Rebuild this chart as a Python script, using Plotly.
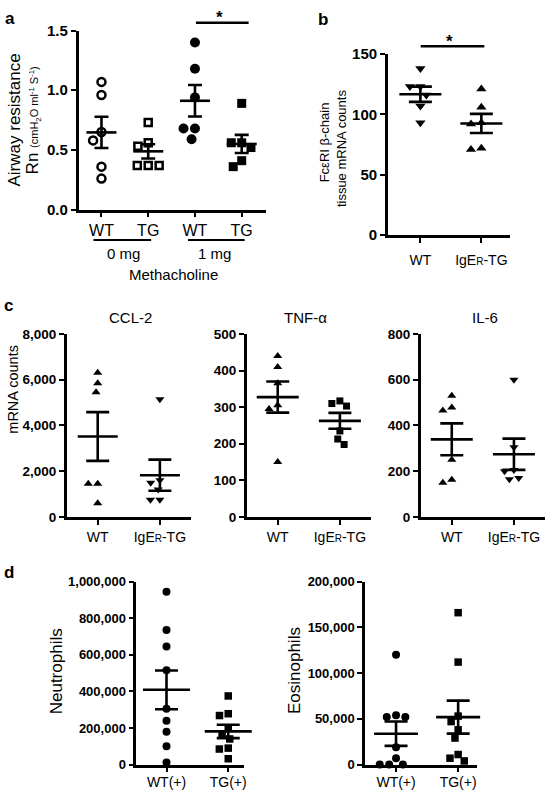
import numpy as np
import plotly.graph_objects as go

W, H = 550, 800
FONT = "Liberation Sans, Arial, Helvetica, sans-serif"

# ---------------- data ----------------
# a: airway resistance Rn
a_ticks = ["WT", "TG", "WT", "TG"]
a_doses = ["0 mg", "1 mg"]
a_wt_0mg = [1.07, 0.96, 0.65, 0.58, 0.36, 0.26]
a_tg_0mg = [0.73, 0.56, 0.53, 0.37, 0.37, 0.37]
a_wt_1mg = [1.40, 1.18, 0.94, 0.68, 0.68, 0.59]
a_tg_1mg = [0.89, 0.56, 0.56, 0.52, 0.41, 0.36]

# b: FceRI beta-chain tissue mRNA counts
b_ticks = ["WT", "IgE<span style='font-size:10px'>R</span>-TG"]
b_wt = [138, 123, 123, 116, 107, 93]
b_tg = [121, 106, 93, 92, 72, 71]

# c: mRNA counts
c_titles = ["CCL-2", "TNF-α", "IL-6"]
c_ticks = ["WT", "IgE<span style='font-size:10px'>R</span>-TG"]
ccl2_wt = [6300, 5850, 5450, 1450, 1450, 600]
ccl2_tg = [5150, 1600, 1500, 1200, 750, 750]
tnf_wt = [440, 410, 365, 305, 295, 150]
tnf_tg = [317, 310, 303, 235, 213, 198]
il6_wt = [530, 478, 465, 250, 163, 150]
il6_tg = [600, 305, 205, 200, 170, 165]

# d: BAL cell counts
d_ticks = ["WT(+)", "TG(+)"]
neut_wt = [945000, 735000, 645000, 515000, 305000, 240000, 180000, 100000, 12000]
neut_tg = [375000, 278000, 268000, 200000, 165000, 140000, 90000, 85000, 32000]
eos_wt = [120000, 54000, 52000, 52000, 19000, 7000, 0, 0, 0]
eos_tg = [166000, 112000, 53000, 47000, 38000, 29000, 11000, 7000, 4000]


# ---------------- helpers ----------------
def px_x(p):
    return p / W


def px_y(p):
    return 1 - p / H


def swarm(vals, ppu, d):
    """Deterministic beeswarm: horizontal pixel offsets so markers don't overlap."""
    ys = [v * ppu for v in vals]
    order = sorted(range(len(vals)), key=lambda i: -vals[i])
    placed, offs = [], [0.0] * len(vals)
    for i in order:
        y = ys[i]
        cands = [0.0]
        for py, px in placed:
            dy = abs(y - py)
            if dy < d:
                dx = (d * d - dy * dy) ** 0.5
                cands += [px + dx, px - dx]
        cands.sort(key=lambda c: (abs(c), c))
        for c in cands:
            if all((c - px) ** 2 + (y - py) ** 2 >= d * d - 1e-6 for py, px in placed):
                offs[i] = c
                break
        placed.append((y, offs[i]))
    return offs


fig = go.Figure()
layout = dict(
    width=W, height=H, margin=dict(l=0, r=0, t=0, b=0),
    paper_bgcolor="white", plot_bgcolor="white", showlegend=False,
    font=dict(family=FONT, color="black"),
)

panels = [
    dict(n=1, xpx=(79, 267), ypx=(22, 205), xr=(-0.49, 3.51), yr=(0, 1.5), dtick=0.5, fmt=".1f",
         ticks=a_ticks, yfs=15, xfs=16, xstand=-1, mlen=30, cap=7,
         groups=[(a_wt_0mg, "circle-open", 8, 2.5), (a_tg_0mg, "square-open", 7, 2.5),
                 (a_wt_1mg, "circle", 10, 0), (a_tg_1mg, "square", 9, 0)]),
    dict(n=2, xpx=(390, 513), ypx=(46, 231), xr=(-0.533, 1.473), yr=(0, 150), dtick=50, fmt="d",
         ticks=b_ticks, yfs=15, xfs=14, xstand=5, mlen=42, cap=11.5,
         groups=[(b_wt, "triangle-down", 9, 0), (b_tg, "triangle-up", 9, 0)]),
    dict(n=3, xpx=(67, 192), ypx=(332, 519), xr=(-0.5, 1.5), yr=(0, 8000), dtick=2000, fmt=",d",
         ticks=c_ticks, yfs=13.5, xfs=14, xstand=0, mlen=40, cap=11.5,
         groups=[(ccl2_wt, "triangle-up", 8, 0), (ccl2_tg, "triangle-down", 8, 0)]),
    dict(n=4, xpx=(248, 373), ypx=(332, 519), xr=(-0.5, 1.5), yr=(0, 500), dtick=100, fmt="d",
         ticks=c_ticks, yfs=13.5, xfs=14, xstand=0, mlen=42, cap=11.5,
         groups=[(tnf_wt, "triangle-up", 8, 0), (tnf_tg, "square", 7, 0)]),
    dict(n=5, xpx=(423, 548), ypx=(332, 519), xr=(-0.5, 1.5), yr=(0, 800), dtick=200, fmt="d",
         ticks=c_ticks, yfs=13.5, xfs=14, xstand=0, mlen=42, cap=11.5,
         groups=[(il6_wt, "triangle-up", 8, 0), (il6_tg, "triangle-down", 8, 0)]),
    dict(n=6, xpx=(137, 245), ypx=(585, 772), xr=(-0.49, 1.25), yr=(0, 1000000), dtick=200000, fmt=",d",
         ticks=d_ticks, yfs=13, xfs=14, xstand=-2, mlen=47, cap=11.5,
         groups=[(neut_wt, "circle", 8, 0), (neut_tg, "square", 7.5, 0)]),
    dict(n=7, xpx=(367, 480), ypx=(585, 772), xr=(-0.5, 1.31), yr=(0, 200000), dtick=50000, fmt=",d",
         ticks=d_ticks, yfs=13, xfs=14, xstand=-2, mlen=44, cap=11.5,
         groups=[(eos_wt, "circle", 8, 0), (eos_tg, "square", 7.5, 0)]),
]

for p in panels:
    s = "" if p["n"] == 1 else str(p["n"])
    x_ppu = (p["xpx"][1] - p["xpx"][0]) / (p["xr"][1] - p["xr"][0])
    y_ppu = (p["ypx"][1] - p["ypx"][0]) / (p["yr"][1] - p["yr"][0])
    for k, (vals, sym, size, lw) in enumerate(p["groups"]):
        offs = swarm(vals, y_ppu, size + lw + 1.5)
        xs = [k + o / x_ppu for o in offs]
        fig.add_trace(go.Scatter(
            x=xs, y=vals, xaxis="x" + s, yaxis="y" + s, mode="markers", cliponaxis=False,
            marker=dict(symbol=sym, size=size, color="black",
                        line=dict(color="black", width=lw)),
            hoverinfo="skip"))
    for k, (vals, sym, size, lw) in enumerate(p["groups"]):
        m = float(np.mean(vals))
        se = float(np.std(vals, ddof=1) / np.sqrt(len(vals)))
        fig.add_trace(go.Scatter(
            x=[k], y=[m], xaxis="x" + s, yaxis="y" + s, mode="markers", cliponaxis=False,
            marker=dict(symbol="line-ew", size=p["mlen"] / 1.4,
                        line=dict(color="black", width=2.6)),
            error_y=dict(type="data", array=[se], color="black", thickness=2.6, width=p["cap"]),
            hoverinfo="skip"))

    common = dict(showline=True, linecolor="black", linewidth=2.5, ticks="outside", ticklen=5,
                  tickwidth=2, tickcolor="black", showgrid=False, zeroline=False, fixedrange=True)
    layout["xaxis" + s] = dict(
        common, domain=[px_x(p["xpx"][0]), px_x(p["xpx"][1])], range=list(p["xr"]),
        anchor="y" + s, tickmode="array", tickvals=list(range(len(p["ticks"]))),
        ticktext=p["ticks"], ticklabelstandoff=p["xstand"],
        tickfont=dict(family=FONT, size=p["xfs"], color="black"))
    layout["yaxis" + s] = dict(
        common, domain=[px_y(p["ypx"][1]), px_y(p["ypx"][0])], range=list(p["yr"]),
        anchor="x" + s, tick0=0, dtick=p["dtick"], tickformat=p["fmt"],
        tickfont=dict(family=FONT, size=p["yfs"], color="black", weight="bold"))

ann = []


def text(x, y, t, size, bold=False, angle=0):
    ann.append(dict(x=px_x(x), y=px_y(y), xref="paper", yref="paper", text=t, showarrow=False,
                    textangle=angle, xanchor="center", yanchor="middle",
                    font=dict(family=FONT, size=size, color="black",
                              weight="bold" if bold else "normal")))


# panel letters
text(10, 10, "a", 17, bold=True)
text(325, 11, "b", 17, bold=True)
text(9, 303, "c", 17, bold=True)
text(9, 576, "d", 17, bold=True)

# y-axis titles
text(15, 113, "Airway resistance", 17, angle=-90)
text(33, 114, "Rn <span style='font-size:11px'>(cmH<sub>2</sub>O ml<sup>-1</sup> S<sup>-1</sup>)</span>", 17, angle=-90)
text(326, 136, "FcεRI β-chain", 13, angle=-90)
text(344, 142, "tissue mRNA counts", 13, angle=-90)
text(13, 388, "mRNA counts", 14.5, angle=-90)
text(57, 677, "Neutrophils", 17, angle=-90)
text(296, 676, "Eosinophils", 17, angle=-90)

# panel c titles
for t, cx in zip(c_titles, [131, 307, 488]):
    text(cx, 315, t, 15)

# panel a grouping labels
text(124, 250, a_doses[0], 15)
text(216, 250, a_doses[1], 15)
text(174, 271, "Methacholine", 15)

# significance stars
text(221, 9, "*", 17, bold=True)
text(452, 33, "*", 17, bold=True)

shapes = []


def hline(x0, x1, y, w=2.5):
    shapes.append(dict(type="line", xref="paper", yref="paper", x0=px_x(x0), x1=px_x(x1),
                       y0=px_y(y), y1=px_y(y), line=dict(color="black", width=w)))


hline(94, 152, 236, 2)
hline(189, 246, 236, 2)
hline(197, 250, 14)
hline(423, 487, 38)

layout["annotations"] = ann
layout["shapes"] = shapes
fig.update_layout(**layout)
fig.write_html("out.html", config={"displayModeBar": False},
               post_script="document.body.style.margin='0';document.body.style.overflow='hidden';")
